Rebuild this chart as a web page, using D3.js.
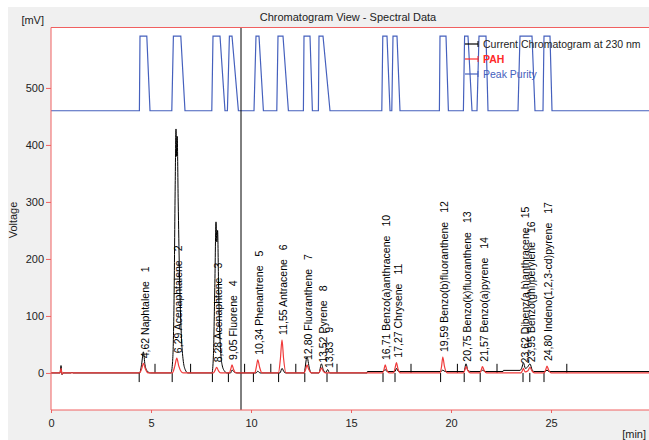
<!DOCTYPE html>
<html>
<head>
<meta charset="utf-8">
<script src="https://cdn.jsdelivr.net/npm/d3@7/dist/d3.min.js"></script>
<style>
  html, body { margin: 0; padding: 0; background: #ffffff; }
  svg { display: block; font-family: "Liberation Sans", Arial, sans-serif; }
</style>
</head>
<body>
<div id="chart"></div>
<script>
// Current chromatogram at 230 nm (black): time [min], signal [mV]
const chromTime = [0, 0.45, 0.5, 0.55, 0.6, 1.0, 1.05, 1.1,
  4.43, 4.53, 4.62, 4.7, 4.82, 4.97,
  6.0, 6.08, 6.15, 6.21, 6.25, 6.28, 6.31, 6.36, 6.42, 6.5, 6.6, 6.72, 6.85,
  8.05, 8.12, 8.19, 8.25, 8.29, 8.33, 8.38, 8.45, 8.55, 8.68, 8.8,
  8.98, 9.05, 9.15, 9.3,
  10.25, 10.34, 10.45,
  11.45, 11.55, 11.65, 11.75,
  12.65, 12.8, 12.92, 13.0,
  13.4, 13.52, 13.62, 13.75, 13.83, 13.93,
  15.8, 15.82, 16.6, 16.71, 16.8, 17.2, 17.27, 17.38,
  19.5, 19.59, 19.7, 20.65, 20.75, 20.85, 21.0, 21.5, 21.57, 21.7,
  22.6, 22.62, 23.45, 23.55, 23.62, 23.72, 23.82, 23.95, 24.05, 24.15,
  24.7, 24.8, 24.9, 30];
const chromValue = [0, 0, 13, -3, 0, 0, 1.5, 0,
  0, 15, 37, 14, 3, 0,
  0, 20, 120, 330, 428, 380, 415, 300, 180, 80, 25, 5, 0,
  0, 30, 150, 265, 230, 250, 150, 60, 15, 3, 0,
  0, 5, 2, 0,
  0, 3, 0,
  0, 8, 2, 0,
  0, 28, 8, 0,
  0, 16, 5, 1, 6, 0,
  0, 2.5, 2.5, 6, 2.5, 2.5, 8, 2.5,
  2.5, 5, 2.5, 2.5, 16, 4, 2.5, 2.5, 5, 2.5,
  2.5, 4.5, 4.5, 10, 18, 8, 10, 16, 6, 2.5,
  2.5, 5, 2.5, 2.5];

// PAH trace (red)
const pahTime = [0, 0.45, 0.5, 0.55, 0.6,
  4.42, 4.54, 4.62, 4.71, 4.85,
  6.07, 6.19, 6.29, 6.39, 6.52, 6.63,
  8.12, 8.21, 8.28, 8.37, 8.48,
  8.92, 8.99, 9.05, 9.13, 9.25,
  10.19, 10.27, 10.34, 10.43, 10.55,
  11.37, 11.47, 11.55, 11.63, 11.75,
  12.65, 12.73, 12.8, 12.89, 13.01,
  13.39, 13.46, 13.52, 13.61, 13.73,
  16.57, 16.65, 16.71, 16.79, 16.91,
  17.12, 17.2, 17.27, 17.35, 17.48,
  19.45, 19.53, 19.59, 19.67, 19.81,
  20.61, 20.69, 20.75, 20.83, 20.97,
  21.43, 21.51, 21.57, 21.65, 21.78,
  23.5, 23.57, 23.62, 23.7, 23.85, 23.95, 24.04, 24.18,
  24.65, 24.73, 24.8, 24.88, 25.01, 30];
const pahValue = [0, 0, 8, -2, 0,
  0, 8, 17, 8, 0,
  0, 12, 26, 12, 2, 0,
  0, 5, 10, 4, 0,
  0, 7, 14, 6, 0,
  0, 11, 23, 10, 0,
  0, 25, 58, 25, 0,
  0, 6, 14, 6, 0,
  0, 4, 9, 3, 0,
  0, 6, 14, 5, 0,
  0, 8, 18, 7, 0,
  0, 12, 28, 12, 0,
  0, 5, 11, 5, 0,
  0, 5, 11, 5, 0,
  0, 4, 8, 2, 4, 10, 4, 0,
  0, 5, 12, 5, 0, 0];

// Peak purity pulses: [rise start, top start, top end, fall end] in minutes
const purityLow = 460;
const purityHigh = 591;
const purityPulses = [
  [4.42, 4.45, 4.79, 4.95],
  [6.04, 6.12, 6.49, 6.7],
  [8.04, 8.1, 8.45, 8.7],
  [8.82, 8.92, 9.05, 9.37],
  [10.15, 10.25, 10.4, 10.62],
  [11.29, 11.35, 11.6, 11.87],
  [12.62, 12.65, 12.95, 13.07],
  [13.37, 13.4, 13.6, 13.95],
  [16.54, 16.59, 16.8, 16.95],
  [17.04, 17.1, 17.3, 17.45],
  [19.42, 19.45, 19.75, 19.87],
  [20.62, 20.68, 20.85, 21.05],
  [21.3, 21.4, 21.75, 21.85],
  [23.35, 23.45, 24.05, 24.2],
  [24.6, 24.65, 24.95, 25.05]
];

// Peak table
const peakTimes = [4.62, 6.29, 8.28, 9.05, 10.34, 11.55, 12.80, 13.52, 13.83,
  16.71, 17.27, 19.59, 20.75, 21.57, 23.62, 23.95, 24.80];
const peakNames = ["Naphtalene", "Acenaphtalene", "Acenaphtene", "Fluorene", "Phenantrene",
  "Antracene", "Fluoranthene", "Pyrene", "", "Benzo(a)anthracene", "Chrysene",
  "Benzo(b)fluoranthene", "Benzo(k)fluoranthene", "Benzo(a)pyrene",
  "Dibenz(a,h)anthracene", "Benzo(ghi)perylene", "Indeno(1,2,3-cd)pyrene"];

// Integration markers
const startMarks = [4.41, 6.06, 8.07, 8.87, 10.12, 11.38, 12.69, 13.8,
  16.6, 17.2, 19.48, 20.66, 21.46, 23.6, 23.94, 24.65];
const endMarks = [5.2, 6.98, 9.68, 10.99, 12.24, 14.3, 18.0, 20.32, 22.3, 25.79];

const cursorTime = 9.5;
const xTicks = [0, 5, 10, 15, 20, 25];
const yTicks = [0, 100, 200, 300, 400, 500];
const legendItems = ["Current Chromatogram at 230 nm", "PAH", "Peak Purity"];

function buildChart() {
    const W = 649, H = 440;
    const plot = { left: 51, top: 27.5, right: 651, bottom: 410 };

    const svg = d3.select("#chart").append("svg")
        .attr("width", W)
        .attr("height", H);

    // Background panel
    svg.append("rect")
        .attr("x", 8).attr("y", 7)
        .attr("width", W - 8).attr("height", H - 7)
        .attr("fill", "#f0f0f0");
    svg.append("rect")
        .attr("x", plot.left).attr("y", plot.top)
        .attr("width", plot.right - plot.left).attr("height", plot.bottom - plot.top)
        .attr("fill", "#ffffff");

    const x = d3.scaleLinear().domain([0, 30]).range([plot.left, plot.right]);
    const y = d3.scaleLinear().domain([-65, 606]).range([plot.bottom, plot.top]);

    const colors = { chrom: "#000000", pah: "#f03a3a", purity: "#4560bd", frame: "#f06060" };

    svg.append("defs").append("clipPath").attr("id", "clip")
        .append("rect")
        .attr("x", plot.left).attr("y", plot.top)
        .attr("width", plot.right - plot.left).attr("height", plot.bottom - plot.top);

    const g = svg.append("g").attr("clip-path", "url(#clip)");

    // Peak purity
    const purityPoints = [[0, purityLow]];
    purityPulses.forEach(p => {
        purityPoints.push([p[0], purityLow], [p[1], purityHigh], [p[2], purityHigh], [p[3], purityLow]);
    });
    purityPoints.push([30, purityLow]);

    const lin = d3.line().x(d => x(d[0])).y(d => y(d[1]));
    g.append("path")
        .attr("d", lin(purityPoints))
        .attr("fill", "none")
        .attr("stroke", colors.purity)
        .attr("stroke-width", 1.2);

    // Cursor
    g.append("line")
        .attr("x1", x(cursorTime)).attr("x2", x(cursorTime))
        .attr("y1", plot.top).attr("y2", plot.bottom)
        .attr("stroke", "#000").attr("stroke-width", 1);

    // Traces
    const curve = d3.line().curve(d3.curveMonotoneX).x(d => x(d[0])).y(d => y(d[1]));
    g.append("path")
        .attr("d", curve(d3.zip(chromTime, chromValue)))
        .attr("fill", "none")
        .attr("stroke", colors.chrom)
        .attr("stroke-width", 1);

    // Integration markers
    g.selectAll(".mark-start")
        .data(startMarks)
        .join("line")
        .attr("x1", d => x(d)).attr("x2", d => x(d))
        .attr("y1", y(0)).attr("y2", y(-16))
        .attr("stroke", "#000").attr("stroke-width", 1);
    g.selectAll(".mark-end")
        .data(endMarks)
        .join("line")
        .attr("x1", d => x(d)).attr("x2", d => x(d))
        .attr("y1", y(0)).attr("y2", y(16))
        .attr("stroke", "#000").attr("stroke-width", 1);

    g.append("path")
        .attr("d", curve(d3.zip(pahTime, pahValue)))
        .attr("fill", "none")
        .attr("stroke", colors.pah)
        .attr("stroke-width", 1.2);

    // Peak labels, placed just above the PAH apex
    const pahPoints = d3.zip(pahTime, pahValue);
    peakTimes.forEach((t, i) => {
        const apex = d3.max(pahPoints.filter(p => Math.abs(p[0] - t) < 0.06), p => p[1]) || 0;
        const label = g.append("text")
            .attr("transform", `translate(${x(t) + 1.5},${y(apex) - 5}) rotate(-90)`)
            .attr("dy", "0.35em")
            .style("font-size", "10.5px")
            .style("fill", "#000");
        const time = t.toFixed(2).replace(".", ",");
        label.append("tspan").text(peakNames[i] ? `${time} ${peakNames[i]}` : time);
        label.append("tspan").attr("dx", 9).text(i + 1);
    });

    // Frame
    svg.append("line")
        .attr("x1", plot.left).attr("x2", plot.right)
        .attr("y1", plot.top).attr("y2", plot.top)
        .attr("stroke", colors.frame);
    svg.append("line")
        .attr("x1", plot.left).attr("x2", plot.right)
        .attr("y1", plot.bottom).attr("y2", plot.bottom)
        .attr("stroke", colors.frame);
    svg.append("line")
        .attr("x1", plot.left).attr("x2", plot.left)
        .attr("y1", plot.top).attr("y2", plot.bottom)
        .attr("stroke", colors.frame);

    // Axes
    const yAxis = svg.append("g")
        .attr("transform", `translate(${plot.left},0)`)
        .call(d3.axisLeft(y).tickValues(yTicks).tickSize(5).tickPadding(2));
    yAxis.select(".domain").remove();
    yAxis.selectAll("line").attr("stroke", colors.frame);
    yAxis.selectAll("text").style("font-size", "11px").style("font-family", "Liberation Sans, Arial, sans-serif").attr("fill", "#222");

    const xAxis = svg.append("g")
        .attr("transform", `translate(0,${plot.bottom})`)
        .call(d3.axisBottom(x).tickValues(xTicks).tickSize(3).tickPadding(6));
    xAxis.select(".domain").remove();
    xAxis.selectAll("line").attr("stroke", colors.frame);
    xAxis.selectAll("text").style("font-size", "11px").style("font-family", "Liberation Sans, Arial, sans-serif").attr("fill", "#222");

    svg.append("text")
        .attr("x", 44).attr("y", 24)
        .attr("text-anchor", "end")
        .style("font-size", "11px")
        .style("fill", "#222")
        .text("[mV]");

    svg.append("text")
        .attr("x", 646).attr("y", 438)
        .attr("text-anchor", "end")
        .style("font-size", "11px")
        .style("fill", "#222")
        .text("[min]");

    svg.append("text")
        .attr("transform", "translate(17,220) rotate(-90)")
        .attr("text-anchor", "middle")
        .style("font-size", "11px")
        .style("fill", "#222")
        .text("Voltage");

    svg.append("text")
        .attr("x", 348).attr("y", 21)
        .attr("text-anchor", "middle")
        .style("font-size", "11px")
        .style("fill", "#222")
        .text("Chromatogram View - Spectral Data");

    // Legend
    const legendColors = [colors.chrom, "#ff2a2a", colors.purity];
    const legend = svg.append("g").attr("transform", "translate(465,44)");
    legend.selectAll("line.sample")
        .data(legendItems)
        .join("line")
        .attr("x1", 0).attr("x2", 13)
        .attr("y1", (d, i) => i * 15).attr("y2", (d, i) => i * 15)
        .attr("stroke", (d, i) => legendColors[i])
        .attr("stroke-width", 1.2);
    legend.selectAll("line.cap")
        .data(legendItems)
        .join("line")
        .attr("x1", 13).attr("x2", 13)
        .attr("y1", (d, i) => i * 15 - 3).attr("y2", (d, i) => i * 15 + 3)
        .attr("stroke", (d, i) => legendColors[i]);
    legend.selectAll("text")
        .data(legendItems)
        .join("text")
        .attr("x", 18)
        .attr("y", (d, i) => i * 15)
        .attr("dy", "0.35em")
        .style("font-size", "10.5px")
        .style("font-weight", (d, i) => i === 1 ? "bold" : "normal")
        .style("fill", (d, i) => i === 0 ? "#222" : legendColors[i])
        .text(d => d);
}

buildChart();
</script>
</body>
</html>
